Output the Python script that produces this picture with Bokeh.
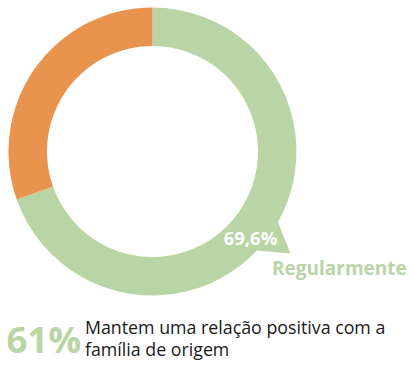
import math
from bokeh.plotting import figure
from bokeh.models import Range1d
from bokeh.core.properties import value
from bokeh.embed import file_html
from bokeh.resources import INLINE

categories = ["Regularmente", "Outros"]
values = [69.6, 30.4]
labels = ["69,6%", ""]
colors = ["#B9D5A5", "#E8944E"]
headline_value = "61%"
headline_text = ["Mantem uma relação positiva com a", "família de origem"]

W, H = 414, 369
p = figure(width=W, height=H, x_range=Range1d(0, W), y_range=Range1d(0, H),
           output_backend="svg", toolbar_location=None, min_border=0)
p.axis.visible = False
p.grid.visible = False
p.outline_line_color = None
p.background_fill_color = "white"

cx, cy = 152, 218
r_out, r_in = 144, 105.5

total = sum(values)
# first slice runs clockwise from 12 o'clock
a = math.pi / 2
angles = []
for v in values:
    span = 2 * math.pi * v / total
    angles.append((a - span, a))
    a -= span

for (s, e), c in zip(angles, colors):
    p.annular_wedge(x=cx, y=cy, inner_radius=r_in, outer_radius=r_out,
                    start_angle=s, end_angle=e, color=c, line_color=None)

# callout tail
def pol(r, deg):
    return cx + r * math.cos(math.radians(deg)), cy + r * math.sin(math.radians(deg))
t1 = pol(r_out - 2, -28.7)
t2 = pol(171.6, -36.5)
t3 = pol(r_out - 2, -44.0)
p.patch([t1[0], t2[0], t3[0]], [t1[1], t2[1], t3[1]], color=colors[0], line_color=None)

p.text(x=[250], y=[132.5], text=[labels[0]], text_color="white",
       text_font=value("Open Sans"), text_font_style="bold", text_font_size="18.5px",
       text_align="center", text_baseline="middle")

p.text(x=[271.5], y=[102], text=[categories[0]], text_color=colors[0],
       text_font=value("Open Sans"), text_font_style="bold", text_font_size="19px",
       text_align="left", text_baseline="middle")

p.text(x=[6], y=[31], text=[headline_value], text_color=colors[0],
       text_font=value("Open Sans"), text_font_style="bold", text_font_size="36.5px",
       text_align="left", text_baseline="middle")

p.text(x=[84.5, 84.5], y=[42.3, 20.5], text=headline_text, text_color="#1a1a1a",
       text_font=value("Open Sans"), text_font_size="17.8px",
       text_align="left", text_baseline="middle")

open("out.html", "w").write(file_html(p, INLINE))
